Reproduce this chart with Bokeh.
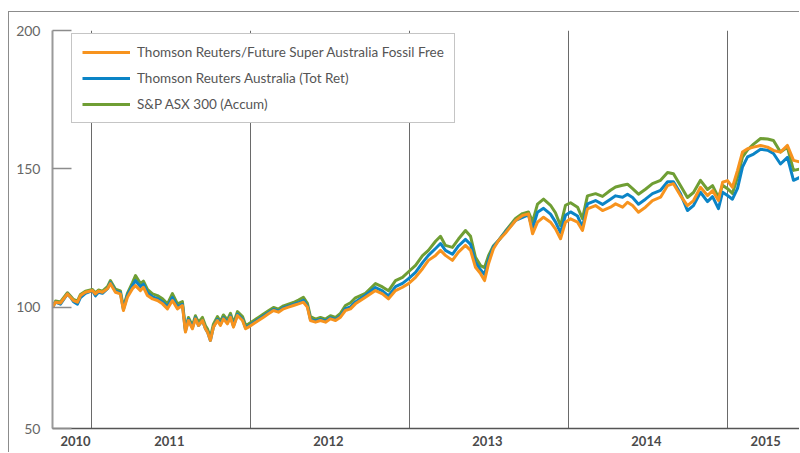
from bokeh.plotting import figure
from bokeh.models import (Range1d, FixedTicker, CustomJSTickFormatter, Legend,
                          LegendItem, ColumnDataSource)
from bokeh.embed import file_html
from bokeh.resources import INLINE

# Dates as decimal years
dates = [
    2010.755, 2010.774, 2010.805, 2010.849, 2010.868, 2010.887, 2010.912, 2010.931, 2010.962,
    2011.006, 2011.025, 2011.044, 2011.069, 2011.101, 2011.119, 2011.151, 2011.182, 2011.201,
    2011.226, 2011.258, 2011.277, 2011.308, 2011.327, 2011.352, 2011.384, 2011.415, 2011.447,
    2011.478, 2011.509, 2011.541, 2011.572, 2011.591, 2011.610, 2011.635, 2011.654, 2011.673,
    2011.698, 2011.717, 2011.730, 2011.748, 2011.767, 2011.792, 2011.811, 2011.830, 2011.855,
    2011.874, 2011.893, 2011.918, 2011.950, 2011.969, 2011.987,
    2012.019, 2012.050, 2012.082, 2012.113, 2012.145, 2012.176, 2012.208, 2012.239, 2012.270,
    2012.302, 2012.333, 2012.358, 2012.377, 2012.409, 2012.440, 2012.472, 2012.503, 2012.535,
    2012.566, 2012.597, 2012.629, 2012.660, 2012.723, 2012.786, 2012.830, 2012.868, 2012.912,
    2012.956, 2012.994,
    2013.038, 2013.082, 2013.119, 2013.164, 2013.195, 2013.226, 2013.270, 2013.308, 2013.352,
    2013.384, 2013.415, 2013.447, 2013.472, 2013.497, 2013.528, 2013.560, 2013.604, 2013.667,
    2013.711, 2013.748, 2013.774, 2013.805, 2013.843, 2013.887, 2013.918, 2013.950, 2013.981,
    2014.013, 2014.057, 2014.088, 2014.119, 2014.170, 2014.214, 2014.264, 2014.296, 2014.340,
    2014.371, 2014.403, 2014.440, 2014.484, 2014.528, 2014.579, 2014.623, 2014.660, 2014.704,
    2014.748, 2014.786, 2014.830, 2014.874, 2014.906, 2014.943, 2014.969,
    2015.000, 2015.031, 2015.063, 2015.094, 2015.126, 2015.164, 2015.208, 2015.252, 2015.289,
    2015.333, 2015.377, 2015.415, 2015.459,
]

fossil_free = [
    100.1, 101.9, 101.6, 104.9, 103.7, 102.5, 101.9, 104.3, 105.5,
    106.1, 104.9, 105.9, 105.5, 106.8, 108.6, 105.5, 104.9, 98.9,
    103.7, 106.8, 107.9, 106.1, 107.3, 104.3, 103.1, 102.5, 101.3,
    99.5, 102.5, 99.5, 100.7, 91.1, 95.3, 92.3, 95.9, 93.5,
    95.3, 92.3, 91.1, 88.1, 92.9, 95.3, 93.5, 95.9, 94.1,
    96.5, 92.9, 97.1, 95.3, 92.3, 92.9,
    94.1, 95.3, 96.5, 97.7, 98.9, 98.3, 99.5, 100.1, 100.7,
    101.3, 101.9, 100.1, 95.3, 94.7, 95.3, 94.7, 95.9, 95.3,
    96.5, 98.9, 99.5, 101.3, 103.7, 106.1, 104.9, 103.1, 106.1,
    107.3, 108.6,
    110.9, 114.0, 117.0, 118.8, 120.6, 118.8, 117.0, 120.0, 122.4,
    120.6, 114.5, 112.2, 109.7, 115.8, 121.2, 124.2, 126.9, 131.4,
    133.2, 133.8, 126.6, 130.8, 132.6, 130.8, 128.4, 124.8, 130.8,
    132.0, 130.8, 127.8, 135.6, 136.8, 135.0, 136.2, 137.4, 136.2,
    138.0, 136.8, 134.4, 136.2, 138.6, 139.8, 144.0, 144.7, 140.4,
    136.8, 138.6, 143.4, 140.4, 142.2, 138.6, 145.2,
    145.8, 143.4, 149.5, 156.1, 157.3, 157.9, 158.5, 157.9, 156.7,
    156.1, 158.5, 153.1, 152.5,
]

tr_australia = [
    100.1, 101.9, 101.2, 104.9, 103.7, 102.1, 101.2, 103.6, 105.1,
    106.1, 104.2, 105.5, 105.1, 106.8, 109.0, 105.9, 105.3, 99.3,
    104.4, 107.9, 109.7, 107.5, 108.4, 105.4, 103.8, 103.2, 102.0,
    100.2, 103.6, 100.2, 101.1, 91.5, 95.7, 92.7, 96.3, 93.5,
    95.3, 92.3, 91.1, 88.1, 92.9, 95.7, 93.9, 96.3, 94.5,
    96.9, 93.3, 97.5, 95.7, 92.7, 93.3,
    94.5, 95.7, 96.9, 98.1, 99.3, 98.7, 99.9, 100.5, 101.1,
    101.7, 102.6, 100.5, 95.7, 95.1, 95.7, 95.1, 96.3, 95.7,
    96.9, 99.6, 100.2, 102.0, 104.4, 107.2, 106.0, 104.2, 107.5,
    108.7, 110.4,
    112.7, 116.2, 118.8, 121.3, 123.1, 120.6, 119.2, 122.2, 124.6,
    122.8, 116.3, 113.6, 111.9, 117.2, 121.9, 124.2, 127.3, 131.4,
    132.5, 133.4, 128.4, 134.4, 135.8, 133.7, 130.9, 127.0, 133.3,
    134.5, 133.0, 128.9, 137.4, 138.6, 137.2, 139.1, 140.3, 139.8,
    140.9, 139.7, 137.3, 139.1, 141.1, 142.3, 145.4, 145.4, 141.1,
    135.0, 136.8, 141.6, 138.2, 140.0, 135.7, 141.6,
    140.4, 139.1, 143.0, 150.7, 154.4, 155.4, 157.1, 156.8, 155.6,
    151.8, 154.2, 145.9, 147.1,
]

asx300 = [
    100.1, 102.3, 102.0, 105.3, 104.1, 102.9, 102.3, 104.7, 105.9,
    106.5, 105.3, 106.3, 105.9, 107.5, 109.7, 106.6, 106.0, 100.0,
    105.1, 109.0, 111.5, 108.6, 109.5, 106.5, 104.9, 104.3, 103.1,
    101.3, 105.0, 101.3, 102.1, 92.2, 96.4, 93.4, 97.0, 94.6,
    96.4, 93.4, 92.2, 89.2, 94.0, 96.7, 94.9, 97.3, 95.5,
    97.9, 94.3, 98.5, 96.7, 93.7, 94.0,
    95.2, 96.4, 97.6, 98.8, 100.0, 99.4, 100.6, 101.2, 101.8,
    102.7, 103.7, 101.5, 96.7, 95.8, 96.4, 95.8, 97.0, 96.4,
    97.9, 100.7, 101.7, 103.5, 105.1, 108.6, 107.4, 106.0, 109.7,
    110.9, 112.9,
    115.2, 118.7, 120.6, 123.9, 125.7, 122.4, 121.7, 124.7, 127.8,
    125.7, 118.1, 115.1, 114.4, 118.7, 122.3, 124.2, 127.6, 132.1,
    133.9, 134.5, 130.9, 137.3, 139.1, 136.9, 134.2, 129.5, 136.9,
    137.8, 136.2, 132.1, 140.3, 141.1, 140.1, 142.3, 143.5, 144.1,
    144.5, 142.9, 140.9, 142.7, 144.7, 145.9, 148.7, 148.3, 144.0,
    139.7, 141.5, 145.9, 142.6, 144.0, 139.7, 144.1,
    142.9, 141.2, 147.0, 154.3, 156.9, 159.0, 161.0, 160.8, 160.3,
    156.1, 157.8, 149.5, 150.0,
]

series_names = [
    "Thomson Reuters/Future Super Australia Fossil Free",
    "Thomson Reuters Australia (Tot Ret)",
    "S&P ASX 300 (Accum)",
]
series_colors = ["#F7931E", "#0B84C6", "#6F9E34"]

year_boundaries = [2011, 2012, 2013, 2014, 2015]
year_label_pos = [2010.9, 2011.49, 2012.49, 2013.49, 2014.49, 2015.24]
y_ticks = [56.3, 100, 150, 200]   # the bottom tick is labelled "50"

src = ColumnDataSource(data=dict(date=dates, ff=fossil_free, tr=tr_australia, asx=asx300))

p = figure(width=791, height=441,
           x_range=Range1d(2010.755, 2015.459), y_range=Range1d(56.3, 200),
           output_backend="svg", toolbar_location=None,
           min_border_left=43, min_border_right=0, min_border_top=18, min_border_bottom=25,
           styles={"margin-left": "8px", "margin-top": "11px",
                   "border-left": "1px solid #8c8c8c", "border-top": "1px solid #8c8c8c"})
p.outline_line_color = None
p.background_fill_color = "white"

r_g = p.line("date", "asx", source=src, line_color=series_colors[2], line_width=3, line_join="round")
r_b = p.line("date", "tr", source=src, line_color=series_colors[1], line_width=3, line_join="round")
r_o = p.line("date", "ff", source=src, line_color=series_colors[0], line_width=3, line_join="round")

# grid: year boundaries only
p.xgrid.ticker = FixedTicker(ticks=year_boundaries)
p.xgrid.grid_line_color = "#6a6a6a"
p.xgrid.grid_line_width = 1
p.ygrid.grid_line_color = None

# x axis
xa = p.xaxis[0]
xa.ticker = FixedTicker(ticks=year_label_pos)
xa.formatter = CustomJSTickFormatter(code="return Math.floor(tick).toString();")
xa.major_tick_line_color = None
xa.minor_tick_line_color = None
xa.axis_line_color = "#555555"
xa.axis_line_width = 1.5
xa.major_label_text_font = "Lato"
xa.major_label_text_font_style = "bold"
xa.major_label_text_font_size = "13px"
xa.major_label_text_color = "#4a4a4a"
xa.major_label_standoff = 1

# y axis
ya = p.yaxis[0]
ya.ticker = FixedTicker(ticks=y_ticks)
ya.formatter = CustomJSTickFormatter(code="return tick < 60 ? '50' : tick.toFixed(0);")
ya.major_tick_in = 19
ya.major_tick_out = 0
ya.major_tick_line_color = "#8c8c8c"
ya.major_tick_line_width = 1.5
ya.minor_tick_line_color = None
ya.axis_line_color = "#9a9a9a"
ya.axis_line_width = 2
ya.major_label_text_font = "Lato"
ya.major_label_text_font_size = "14px"
ya.major_label_text_color = "#666666"
ya.major_label_standoff = 12

legend = Legend(
    items=[LegendItem(label=series_names[0], renderers=[r_o]),
           LegendItem(label=series_names[1], renderers=[r_b]),
           LegendItem(label=series_names[2], renderers=[r_g])],
    location=(19, 305), margin=0, padding=10, spacing=10,
    glyph_width=48, glyph_height=12, label_height=12, label_standoff=7,
    label_text_font="Lato", label_text_font_size="13.5px", label_text_color="#555555",
    border_line_color="#8c8c8c", border_line_width=1,
    background_fill_color="white", background_fill_alpha=1.0,
)
p.add_layout(legend)

open("out.html", "w").write(file_html(p, INLINE))
